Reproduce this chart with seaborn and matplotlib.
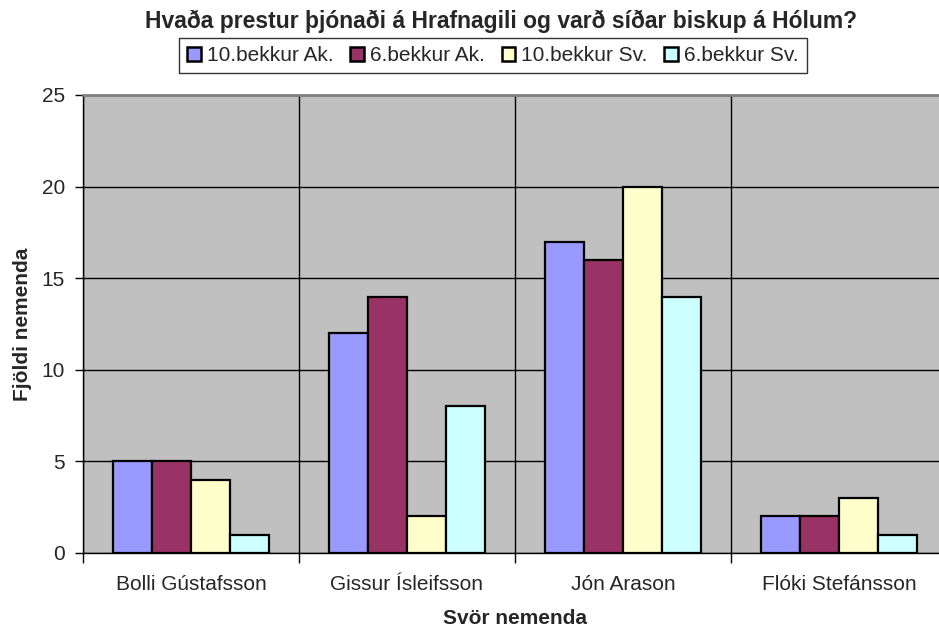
import pandas as pd
import seaborn as sns
import matplotlib.pyplot as plt
from matplotlib.ticker import FixedLocator

# data
svor = ['Bolli Gústafsson', 'Gissur Ísleifsson', 'Jón Arason', 'Flóki Stefánsson']
hopar = ['10.bekkur Ak.', '6.bekkur Ak.', '10.bekkur Sv.', '6.bekkur Sv.']
ak10 = [5, 12, 17, 2]
ak6 = [5, 14, 16, 2]
sv10 = [4, 2, 20, 3]
sv6 = [1, 8, 14, 1]
litir = ['#9999FF', '#993366', '#FFFFCC', '#CCFFFF']

gildi = [ak10, ak6, sv10, sv6]
rows = []
for h, vals in zip(hopar, gildi):
    for s, v in zip(svor, vals):
        rows.append({'svar': s, 'hopur': h, 'fjoldi': v})
df = pd.DataFrame(rows)

sns.set_style('white')
plt.rcParams['font.family'] = ['Liberation Sans', 'DejaVu Sans']

fig = plt.figure(figsize=(9.39, 6.32), dpi=100)
ax = fig.add_axes([83/939, 1-553/632, 864/939, 458/632])
ax.set_facecolor('#C0C0C0')

sns.barplot(data=df, x='svar', y='fjoldi', hue='hopur', order=svor, hue_order=hopar,
            palette=litir, saturation=1, width=0.72, errorbar=None,
            edgecolor='black', linewidth=1.6, ax=ax, legend=True, zorder=3)

ax.set_xlim(-0.5, 3.5)
ax.set_ylim(0, 25)
ax.set_yticks([0, 5, 10, 15, 20, 25])
ax.xaxis.set_minor_locator(FixedLocator([-0.5, 0.5, 1.5, 2.5, 3.5]))
ax.grid(axis='y', which='major', color='black', linewidth=1, zorder=0)
ax.grid(axis='x', which='minor', color='black', linewidth=1, zorder=0)
ax.set_axisbelow(True)
ax.tick_params(axis='x', which='major', length=0, pad=16, labelsize=15)
ax.tick_params(axis='x', which='minor', length=7, width=1, color='black', direction='out')
ax.tick_params(axis='y', which='major', length=6, width=1, color='black', direction='out',
               pad=7, labelsize=15)
ax.xaxis.set_ticks_position('bottom')
ax.yaxis.set_ticks_position('left')

for side in ['left', 'bottom']:
    ax.spines[side].set_color('black')
    ax.spines[side].set_linewidth(1)
ax.spines['top'].set_color('#808080')
ax.spines['top'].set_linewidth(2)
ax.spines['right'].set_visible(False)

ax.set_xlabel('Svör nemenda', fontsize=15, fontweight='bold', labelpad=11)
ax.set_ylabel('Fjöldi nemenda', fontsize=15, fontweight='bold', labelpad=7)

fig.text(501/939, 1-21/632, 'Hvaða prestur þjónaði á Hrafnagili og varð síðar biskup á Hólum?',
         ha='center', va='center', fontsize=16.5, fontweight='bold')

handles, labels = ax.get_legend_handles_labels()
ax.get_legend().remove()
leg = fig.legend(handles, labels, loc='center', bbox_to_anchor=(493/939, 1-55.5/632),
                 ncol=4, fontsize=15, frameon=True, fancybox=False, edgecolor='black',
                 handlelength=0.65, handleheight=0.65, handletextpad=0.3, columnspacing=0.8,
                 borderpad=0.4, borderaxespad=0)
leg.get_frame().set_linewidth(1)
for p in leg.get_patches():
    p.set_edgecolor('black')
    p.set_linewidth(1.8)

fig.savefig('out.png', dpi=100)
